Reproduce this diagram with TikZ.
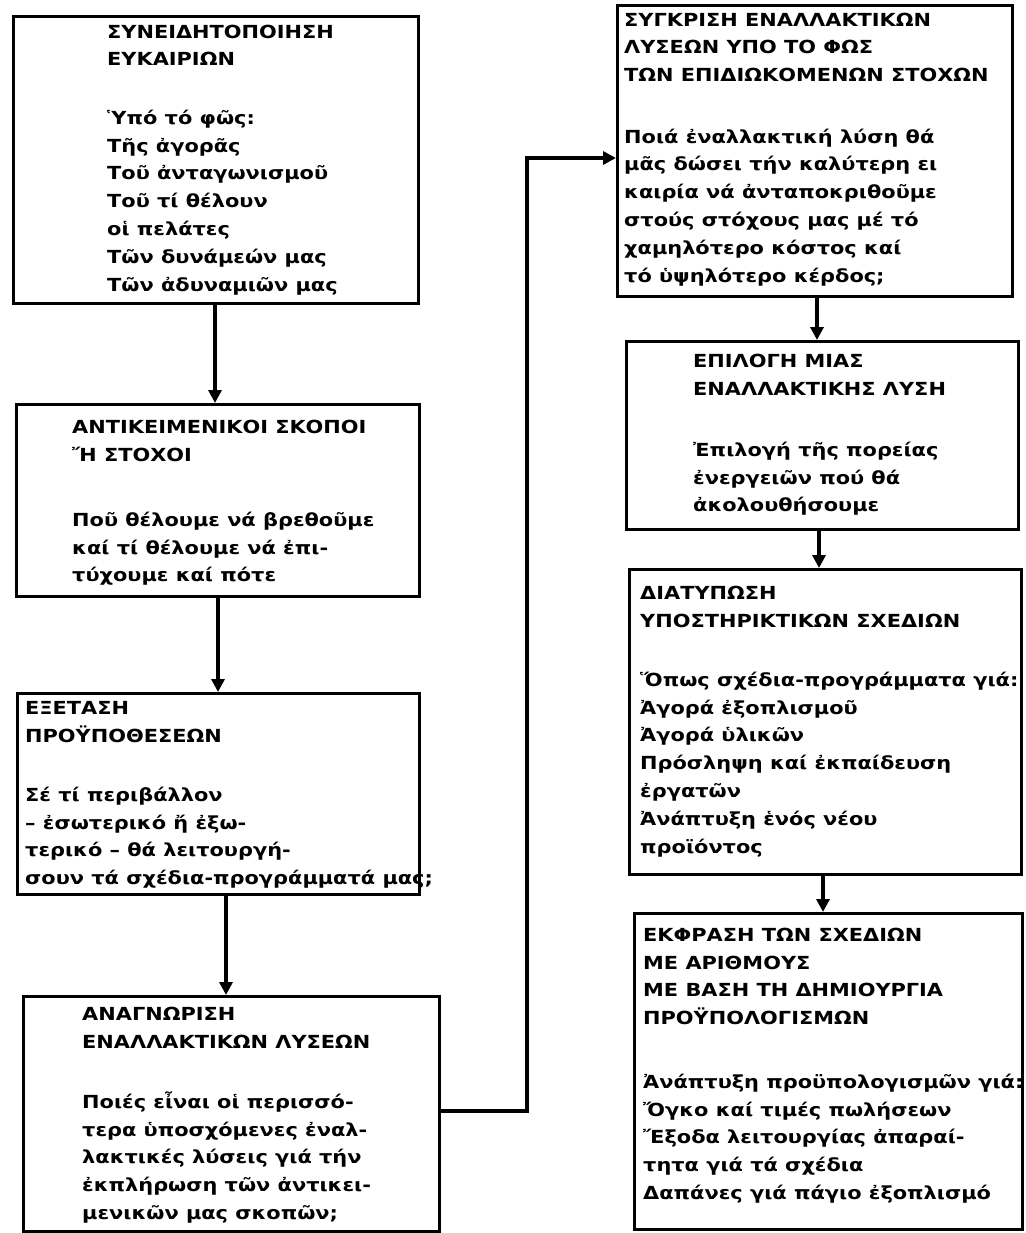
\documentclass[tikz,border=0pt]{standalone}
\usepackage{fontspec}
\setmainfont{DejaVu Sans}[FakeStretch=1.16]
\usetikzlibrary{arrows.meta}
\newcommand{\Rl}{\rule{0pt}{20pt}}
\tikzset{
  box/.style={draw, line width=2.8pt, inner sep=0pt, anchor=north west},
  txt/.style={anchor=north west, inner sep=0pt, align=left, font=\bfseries\fontsize{18}{27.8}\selectfont},
  arr/.style={line width=3.4pt, -{Triangle[length=13pt,width=13pt]}},
}
\begin{document}
\begin{tikzpicture}[x=1pt,y=-1pt]
\useasboundingbox (0,0) rectangle (1025,1233);
% boxes
\node[box, minimum width=405pt, minimum height=287pt] (b1) at (12,15) {};
\node[box, minimum width=403pt, minimum height=192pt] (b2) at (15,403) {};
\node[box, minimum width=402pt, minimum height=201pt] (b3) at (16,692) {};
\node[box, minimum width=416pt, minimum height=235pt] (b4) at (22,995) {};
\node[box, minimum width=395pt, minimum height=291pt] (r1) at (616,4) {};
\node[box, minimum width=392pt, minimum height=188pt] (r2) at (625,340) {};
\node[box, minimum width=392pt, minimum height=305pt] (r3) at (628,568) {};
\node[box, minimum width=388pt, minimum height=316pt] (r4) at (633,912) {};
% texts
\node[txt] (b1h) at (107,18) {\Rl ΣΥΝΕΙΔΗΤΟΠΟΙΗΣΗ\\ΕΥΚΑΙΡΙΩΝ};
\node[txt] (b1t) at (107,104) {\Rl Ὑπό τό φῶς:\\Τῆς ἀγορᾶς\\Τοῦ ἀνταγωνισμοῦ\\Τοῦ τί θέλουν\\οἱ πελάτες\\Τῶν δυνάμεών μας\\Τῶν ἀδυναμιῶν μας};
\node[txt] (b2h) at (72,413) {\Rl ΑΝΤΙΚΕΙΜΕΝΙΚΟΙ ΣΚΟΠΟΙ\\Ἤ ΣΤΟΧΟΙ};
\node[txt] (b2t) at (72,506) {\Rl Ποῦ θέλουμε νά βρεθοῦμε\\καί τί θέλουμε νά ἐπι-\\τύχουμε καί πότε};
\node[txt] (b3h) at (25,694) {\Rl ΕΞΕΤΑΣΗ\\ΠΡΟΫΠΟΘΕΣΕΩΝ};
\node[txt] (b3t) at (25,781) {\Rl Σέ τί περιβάλλον\\– ἐσωτερικό ἤ ἐξω-\\τερικό – θά λειτουργή-\\σουν τά σχέδια-προγράμματά μας;};
\node[txt] (b4h) at (82,1000) {\Rl ΑΝΑΓΝΩΡΙΣΗ\\ΕΝΑΛΛΑΚΤΙΚΩΝ ΛΥΣΕΩΝ};
\node[txt] (b4t) at (82,1088) {\Rl Ποιές εἶναι οἱ περισσό-\\τερα ὑποσχόμενες ἐναλ-\\λακτικές λύσεις γιά τήν\\ἐκπλήρωση τῶν ἀντικει-\\μενικῶν μας σκοπῶν;};
\node[txt] (r1h) at (624,6) {\Rl ΣΥΓΚΡΙΣΗ ΕΝΑΛΛΑΚΤΙΚΩΝ\\ΛΥΣΕΩΝ ΥΠΟ ΤΟ ΦΩΣ\\ΤΩΝ ΕΠΙΔΙΩΚΟΜΕΝΩΝ ΣΤΟΧΩΝ};
\node[txt] (r1t) at (624,123) {\Rl Ποιά ἐναλλακτική λύση θά\\μᾶς δώσει τήν καλύτερη ει\\καιρία νά ἀνταποκριθοῦμε\\στούς στόχους μας μέ τό\\χαμηλότερο κόστος καί\\τό ὑψηλότερο κέρδος;};
\node[txt] (r2h) at (693,347) {\Rl ΕΠΙΛΟΓΗ ΜΙΑΣ\\ΕΝΑΛΛΑΚΤΙΚΗΣ ΛΥΣΗ};
\node[txt] (r2t) at (693,436) {\Rl Ἐπιλογή τῆς πορείας\\ἐνεργειῶν πού θά\\ἀκολουθήσουμε};
\node[txt] (r3h) at (640,579) {\Rl ΔΙΑΤΥΠΩΣΗ\\ΥΠΟΣΤΗΡΙΚΤΙΚΩΝ ΣΧΕΔΙΩΝ};
\node[txt] (r3t) at (640,666) {\Rl Ὅπως σχέδια-προγράμματα γιά:\\Ἀγορά ἐξοπλισμοῦ\\Ἀγορά ὑλικῶν\\Πρόσληψη καί ἐκπαίδευση\\ἐργατῶν\\Ἀνάπτυξη ἑνός νέου\\προϊόντος};
\node[txt] (r4h) at (643,921) {\Rl ΕΚΦΡΑΣΗ ΤΩΝ ΣΧΕΔΙΩΝ\\ΜΕ ΑΡΙΘΜΟΥΣ\\ΜΕ ΒΑΣΗ ΤΗ ΔΗΜΙΟΥΡΓΙΑ\\ΠΡΟΫΠΟΛΟΓΙΣΜΩΝ};
\node[txt] (r4t) at (643,1068) {\Rl Ἀνάπτυξη προϋπολογισμῶν γιά:\\Ὄγκο καί τιμές πωλήσεων\\Ἔξοδα λειτουργίας ἀπαραί-\\τητα γιά τά σχέδια\\Δαπάνες γιά πάγιο ἐξοπλισμό};
% connectors
\coordinate (a1) at (215,0);
\coordinate (a2) at (218,0);
\coordinate (a3) at (226,0);
\coordinate (a4) at (817,0);
\coordinate (a5) at (819,0);
\coordinate (a6) at (823,0);
\draw[arr] (b1.south -| a1) -- (b2.north -| a1);
\draw[arr] (b2.south -| a2) -- (b3.north -| a2);
\draw[arr] (b3.south -| a3) -- (b4.north -| a3);
\draw[arr] (r1.south -| a4) -- (r2.north -| a4);
\draw[arr] (r2.south -| a5) -- (r3.north -| a5);
\draw[arr] (r3.south -| a6) -- (r4.north -| a6);
\coordinate (k1) at (527,1111);
\coordinate (k2) at (527,158);
\draw[arr] (b4.east |- k1) -- (k1) -- (k2) -- (r1.west |- k2);
\end{tikzpicture}
\end{document}
